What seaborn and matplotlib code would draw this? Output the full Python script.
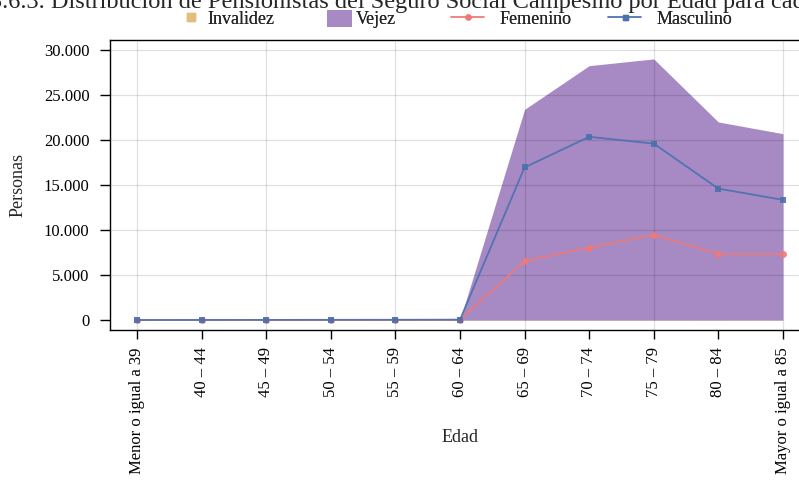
import matplotlib
matplotlib.use("Agg")
import matplotlib.pyplot as plt
import seaborn as sns
import numpy as np
import pandas as pd
from matplotlib.patches import Patch
from matplotlib.lines import Line2D

categorias = ["Menor o igual a 39", "40 – 44", "45 – 49", "50 – 54", "55 – 59",
              "60 – 64", "65 – 69", "70 – 74", "75 – 79", "80 – 84", "Mayor o igual a 85"]
invalidez = [20, 30, 40, 50, 60, 80, 90, 80, 70, 60, 50]
vejez = [0, 0, 0, 0, 0, 0, 23400, 28250, 29000, 22000, 20700]
femenino = [10, 15, 20, 25, 30, 40, 6550, 8050, 9450, 7350, 7350]
masculino = [10, 15, 20, 25, 30, 40, 16950, 20350, 19600, 14600, 13350]
yticks = [0, 5000, 10000, 15000, 20000, 25000, 30000]
ytick_labels = ["0", "5.000", "10.000", "15.000", "20.000", "25.000", "30.000"]
titulo = "3.6.3. Distribución de Pensionistas del Seguro Social Campesino por Edad para cada Sexo"

sns.set_style("white")
plt.rcParams['font.family'] = ['Liberation Serif', 'DejaVu Serif']

c_inv = "#e3bd7c"
c_vej = "#a78ac4"
c_fem = "#f07878"
c_mas = "#4a70b0"

W, H = 799, 487
x = np.arange(len(categorias))
df = pd.DataFrame({"x": np.concatenate([x, x]),
                   "valor": femenino + masculino,
                   "serie": ["Femenino"] * len(x) + ["Masculino"] * len(x)})

fig = plt.figure(figsize=(W / 100, H / 100), dpi=100)
ax = fig.add_axes([110 / W, 1 - 330 / H, 700 / W, 290 / H])

ax.fill_between(x, 0, invalidez, color=c_inv, alpha=1.0, lw=0, zorder=1)
ax.fill_between(x, 0, vejez, color=c_vej, alpha=1.0, lw=0, zorder=1.5)

sns.lineplot(data=df, x="x", y="valor", hue="serie", style="serie",
             palette={"Femenino": c_fem, "Masculino": c_mas},
             markers={"Femenino": "o", "Masculino": "s"}, dashes=False,
             markersize=5, markeredgewidth=0, linewidth=1.3, alpha=0.9,
             legend=False, ax=ax, zorder=3)

ax.set_xlim(-0.42, 10.42)
ax.set_ylim(-1100, 31100)
ax.set_xticks(x)
ax.set_xticklabels(categorias, rotation=90, fontsize=12)
ax.set_yticks(yticks)
ax.set_yticklabels(ytick_labels, fontsize=12)
ax.set_xlabel("Edad", fontsize=13)
ax.set_ylabel("Personas", fontsize=13)
ax.xaxis.set_label_coords(0.5, (330 - 429) / 290)
ax.yaxis.set_label_coords((27 - 110) / 700, 0.5)

for xi in x[::2]:
    ax.axvline(xi, color=(0, 0, 0, 0.12), lw=0.9, zorder=2)
for yi in yticks[1:]:
    ax.axhline(yi, color=(0, 0, 0, 0.12), lw=0.9, zorder=2)

for s in ["left", "top", "bottom"]:
    ax.spines[s].set_color("black")
    ax.spines[s].set_linewidth(1.0)
ax.spines["right"].set_visible(False)
ax.tick_params(axis="y", direction="out", length=7.2, width=1, pad=7.5,
               color="black", left=True, labelcolor="black")
ax.tick_params(axis="x", direction="out", length=6.5, width=1, pad=6,
               color="black", bottom=True, labelcolor="black")

fs = 13
ly = 1 - 19 / H
entradas = [
    (Line2D([], [], marker="s", ls="", color=c_inv, markersize=5.8), "Invalidez", 182, 1.0, 0.39, 0.7),
    (Patch(facecolor=c_vej, edgecolor="none"), "Vejez", 327, 1.38, 0.22, 1.11),
    (Line2D([], [], marker="o", color=c_fem, markersize=3.6, lw=1.1, alpha=0.85), "Femenino", 451, 1.83, 0.83, 0.7),
    (Line2D([], [], marker="s", color=c_mas, markersize=3.6, lw=1.1, alpha=0.85), "Masculino", 608, 1.83, 0.83, 0.7),
]
for h, lab, xp, hl, htp, hh in entradas:
    leg = fig.legend([h], [lab], loc="center left", bbox_to_anchor=(xp / W, ly),
                     frameon=False, fontsize=fs, handlelength=hl, handletextpad=htp,
                     handleheight=hh, borderpad=0, borderaxespad=0)
    fig.add_artist(leg)

fig.text(-10 / W, 1 - 8 / H, titulo, ha="left", va="baseline", fontsize=17.6)

fig.savefig("out.png", dpi=100)
